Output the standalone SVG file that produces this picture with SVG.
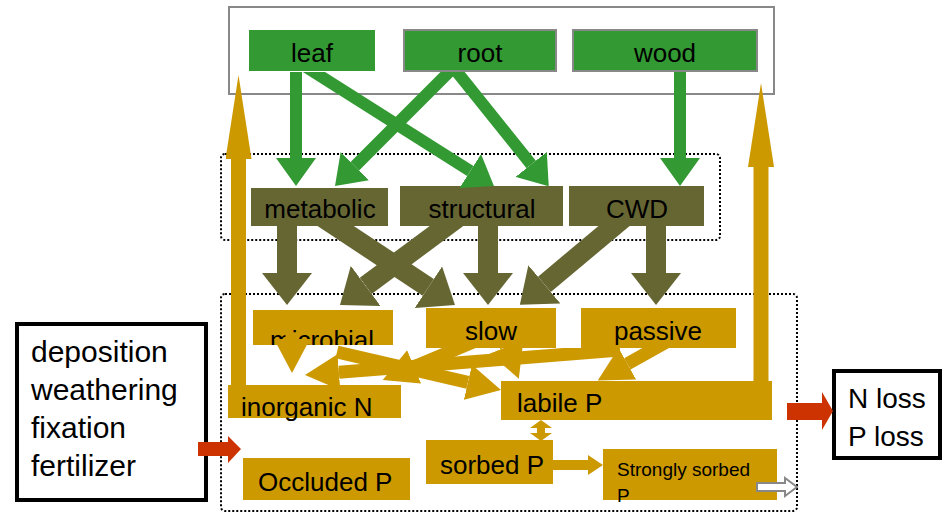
<svg xmlns="http://www.w3.org/2000/svg" width="949" height="513" viewBox="0 0 949 513">
<style>
.lbl{font-family:"Liberation Sans",Arial,sans-serif;font-size:26px;fill:#000}
.big{font-family:"Liberation Sans",Arial,sans-serif;font-size:30px;fill:#000}
.loss{font-family:"Liberation Sans",Arial,sans-serif;font-size:28px;fill:#000}
.sm{font-family:"Liberation Sans",Arial,sans-serif;font-size:19px;fill:#000}
.green{fill:#339933}
.olive{fill:#666633}
.orange{fill:#cc9900}
.dotted{fill:none;stroke:#000;stroke-width:2;stroke-dasharray:2 2}
.gline{stroke:#339933;stroke-width:12;fill:none}
.oline{stroke:#666633;stroke-width:20;fill:none}
.yline{stroke:#cc9900;stroke-width:13;fill:none}
.uline{stroke:#cc9900;stroke-width:15;fill:none}
</style>
<defs>
<marker id="gh" markerUnits="userSpaceOnUse" viewBox="0 0 28 40" refX="0" refY="20" markerWidth="28" markerHeight="40" orient="auto"><path d="M0,0 L28,20 L0,40 Z" fill="#339933"/></marker>
<marker id="oh" markerUnits="userSpaceOnUse" viewBox="0 0 32 50" refX="0" refY="25" markerWidth="32" markerHeight="50" orient="auto"><path d="M0,0 L32,25 L0,50 Z" fill="#666633"/></marker>
<marker id="yh" markerUnits="userSpaceOnUse" viewBox="0 0 34 36" refX="0" refY="18" markerWidth="34" markerHeight="36" orient="auto"><path d="M0,0 L34,18 L0,36 Z" fill="#cc9900"/></marker>
<marker id="uh" markerUnits="userSpaceOnUse" viewBox="0 0 84 26" refX="0" refY="13" markerWidth="84" markerHeight="26" orient="auto"><path d="M0,0 L84,13 L0,26 Z" fill="#cc9900"/></marker>
<clipPath id="clipMicro"><rect x="253" y="310" width="140" height="35"/></clipPath>
<clipPath id="belowPlant"><rect x="0" y="72" width="949" height="441"/></clipPath>
<clipPath id="belowLitter"><rect x="0" y="226" width="949" height="287"/></clipPath>
<clipPath id="belowPools"><rect x="0" y="348" width="949" height="165"/></clipPath>
</defs>

<g id="containers">
<rect id="plant-frame" x="229" y="7" width="545" height="87" fill="none" stroke="#888888" stroke-width="2"/>
<rect id="litter-frame" x="221" y="154" width="499" height="86" rx="4" class="dotted"/>
<rect id="soil-frame" x="221" y="294" width="576" height="217" rx="4" class="dotted"/>
</g>

<g id="leaf"><rect x="249" y="30" width="126" height="41" class="green"/><text x="312" y="62" text-anchor="middle" class="lbl">leaf</text></g>
<g id="root"><rect x="404" y="30" width="152" height="41" class="green" stroke="#888888" stroke-width="2"/><text x="480" y="62" text-anchor="middle" class="lbl">root</text></g>
<g id="wood"><rect x="573" y="30" width="184" height="41" class="green" stroke="#888888" stroke-width="2"/><text x="665" y="62" text-anchor="middle" class="lbl">wood</text></g>

<g id="metabolic"><rect x="251" y="188" width="137" height="38" class="olive"/><text x="320" y="218" text-anchor="middle" class="lbl">metabolic</text></g>
<g id="structural"><rect x="400" y="186" width="163" height="40" class="olive"/><text x="482" y="218" text-anchor="middle" class="lbl">structural</text></g>
<g id="cwd"><rect x="569" y="186" width="135" height="40" class="olive"/><text x="637" y="218" text-anchor="middle" class="lbl">CWD</text></g>

<g id="microbial"><rect x="253" y="310" width="140" height="35" class="orange"/><text x="322" y="349" text-anchor="middle" class="lbl" clip-path="url(#clipMicro)">microbial</text></g>
<g id="slow"><rect x="426" y="308" width="130" height="40" class="orange"/><text x="491" y="340" text-anchor="middle" class="lbl">slow</text></g>
<g id="passive"><rect x="581" y="308" width="155" height="40" class="orange"/><text x="658" y="340" text-anchor="middle" class="lbl">passive</text></g>
<g id="inorganicN"><rect x="228" y="385" width="173" height="33" class="orange"/><text x="241" y="416" class="lbl">inorganic N</text></g>
<g id="labileP"><rect x="501" y="381" width="271" height="39" class="orange"/><text x="517" y="412" class="lbl">labile P</text></g>
<g id="sorbedP"><rect x="426" y="440" width="127" height="44" class="orange"/><text x="440" y="474" class="lbl">sorbed P</text></g>
<g id="occludedP"><rect x="243" y="458" width="167" height="42" class="orange"/><text x="258" y="491" class="lbl">Occluded P</text></g>
<g id="stronglySorbedP"><rect x="603" y="449" width="174" height="51" class="orange"/><text x="617" y="476" class="sm">Strongly sorbed</text><text x="617" y="502" class="sm">P</text></g>

<g id="inputs"><rect x="17" y="324" width="189" height="176" fill="#fff" stroke="#000" stroke-width="4"/>
<text x="31" y="362" class="big">deposition</text><text x="31" y="400" class="big">weathering</text><text x="31" y="438" class="big">fixation</text><text x="31" y="476" class="big">fertilizer</text></g>
<g id="losses"><rect x="834" y="371" width="106" height="87" fill="#fff" stroke="#000" stroke-width="4"/>
<text x="848" y="408" class="loss">N loss</text><text x="848" y="446" class="loss">P loss</text></g>

<g id="connectors">
<g clip-path="url(#belowPlant)">
<line x1="296" y1="66" x2="296" y2="158" class="gline" marker-end="url(#gh)"/>
<line x1="306" y1="67" x2="470.3" y2="171" class="gline" marker-end="url(#gh)"/>
<line x1="452" y1="69" x2="354.8" y2="166.2" class="gline" marker-end="url(#gh)"/>
<line x1="453" y1="67" x2="531.2" y2="164.4" class="gline" marker-end="url(#gh)"/>
<line x1="680" y1="66" x2="680" y2="158" class="gline" marker-end="url(#gh)"/>
</g>
<g clip-path="url(#belowLitter)">
<line x1="287" y1="222" x2="287" y2="273" class="oline" marker-end="url(#oh)"/>
<line x1="322" y1="217" x2="428.3" y2="287.3" class="oline" marker-end="url(#oh)"/>
<line x1="460" y1="216" x2="365.7" y2="285.9" class="oline" marker-end="url(#oh)"/>
<line x1="488" y1="222" x2="488" y2="273" class="oline" marker-end="url(#oh)"/>
<line x1="626" y1="216" x2="544.4" y2="284.3" class="oline" marker-end="url(#oh)"/>
<line x1="656" y1="222" x2="656" y2="273" class="oline" marker-end="url(#oh)"/>
</g>
<line x1="238.5" y1="390" x2="238.5" y2="159" class="uline" marker-end="url(#uh)"/>
<line x1="761" y1="388" x2="761" y2="167" class="uline" marker-end="url(#uh)"/>

<line x1="292" y1="335" x2="292" y2="339" class="yline" marker-end="url(#yh)"/>
<line x1="337" y1="352" x2="467.9" y2="382.3" class="yline" marker-end="url(#yh)"/>
<g clip-path="url(#belowPools)">
<line x1="478" y1="340" x2="414.1" y2="366.8" class="yline" marker-end="url(#yh)"/>
<line x1="620" y1="350" x2="338.9" y2="372.3" class="yline" marker-end="url(#yh)"/>
<line x1="503" y1="338" x2="506.5" y2="347" class="yline" marker-end="url(#yh)"/>
<line x1="670" y1="340" x2="627.4" y2="363.8" class="yline" marker-end="url(#yh)"/>
</g>

<polygon points="541,420 552,428 545,428 545,433 552,433 541,441 530,433 537,433 537,428 530,428" fill="#cc9900"/>
<polygon points="553,460 588,460 588,455 603,465 588,475 588,470 553,470" fill="#cc9900"/>
<polygon points="757,483 785,483 785,478 797,487 785,496 785,491 757,491" fill="#fff" stroke="#888888" stroke-width="2"/>
<polygon points="198,442 228,442 228,436 241,449 228,463 228,456 198,456" fill="#cc3300"/>
<polygon points="787,403 822,403 822,392 833,411 822,430 822,420 787,420" fill="#cc3300"/>
</g>
</svg>
